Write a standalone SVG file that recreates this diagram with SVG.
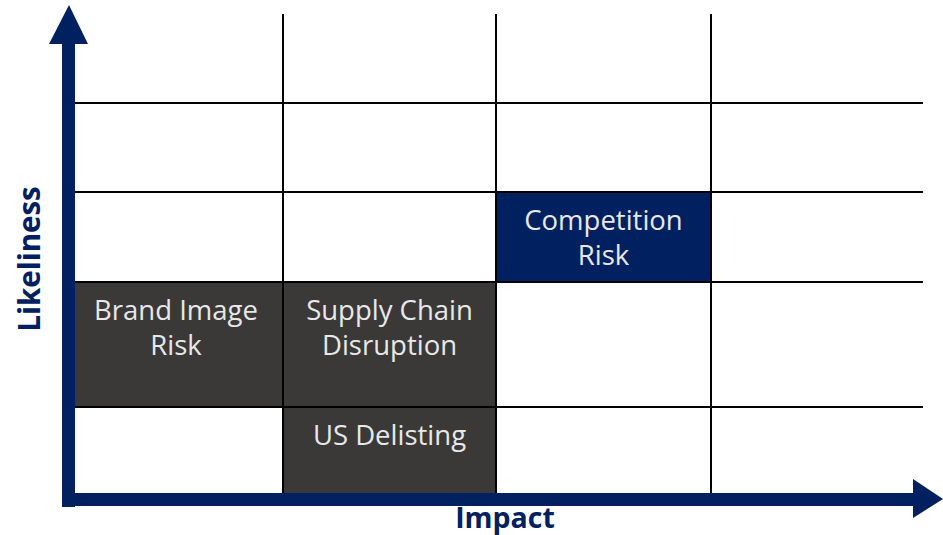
<svg xmlns="http://www.w3.org/2000/svg" width="943" height="535" viewBox="0 0 943 535">
  <style>
    .grid { stroke: #000; stroke-width: 2; fill: none; }
    .navy { fill: #002060; }
    .dark { fill: #3a3938; }
    .lbl { font-family: "Open Sans", "Noto Sans", "Liberation Sans", sans-serif; font-size: 27.5px; fill: #e8e8e8; text-anchor: middle; }
    .axis { font-family: "Open Sans", "Noto Sans", "Liberation Sans", sans-serif; font-size: 29.5px; font-weight: bold; fill: #002060; text-anchor: middle; }
    .axis-x { font-size: 28.5px; }
  </style>
  <rect width="943" height="535" fill="#fff"/>

  <!-- filled risk cells -->
  <g id="competition-risk">
    <rect class="navy" x="496" y="192" width="215" height="90"/>
    <text class="lbl" x="603.5" y="230">Competition</text>
    <text class="lbl" x="603.5" y="265">Risk</text>
  </g>
  <g id="brand-image-risk">
    <rect class="dark" x="75" y="282" width="208" height="125"/>
    <text class="lbl" x="176" y="320">Brand Image</text>
    <text class="lbl" x="176" y="355">Risk</text>
  </g>
  <g id="supply-chain-disruption">
    <rect class="dark" x="283" y="282" width="213" height="125"/>
    <text class="lbl" x="389.5" y="320">Supply Chain</text>
    <text class="lbl" x="389.5" y="355">Disruption</text>
  </g>
  <g id="us-delisting">
    <rect class="dark" x="283" y="407" width="213" height="86"/>
    <text class="lbl" x="389.5" y="445">US Delisting</text>
  </g>

  <!-- grid -->
  <g id="grid" class="grid">
    <line x1="75" y1="103" x2="923" y2="103"/>
    <line x1="75" y1="192" x2="923" y2="192"/>
    <line x1="75" y1="282" x2="923" y2="282"/>
    <line x1="75" y1="407" x2="923" y2="407"/>
    <line x1="283" y1="14" x2="283" y2="493"/>
    <line x1="496" y1="14" x2="496" y2="493"/>
    <line x1="711" y1="14" x2="711" y2="493"/>
  </g>

  <!-- axes -->
  <g id="axes" class="navy">
    <rect x="62" y="40" width="13" height="467"/>
    <polygon points="69,5 88,44 49,44"/>
    <rect x="62" y="493" width="855" height="13"/>
    <polygon points="943,499 913,518 913,479"/>
  </g>

  <g id="axis-labels">
    <text class="axis" transform="translate(40,259) rotate(-90)">Likeliness</text>
    <text class="axis axis-x" x="505" y="528">Impact</text>
  </g>
</svg>
